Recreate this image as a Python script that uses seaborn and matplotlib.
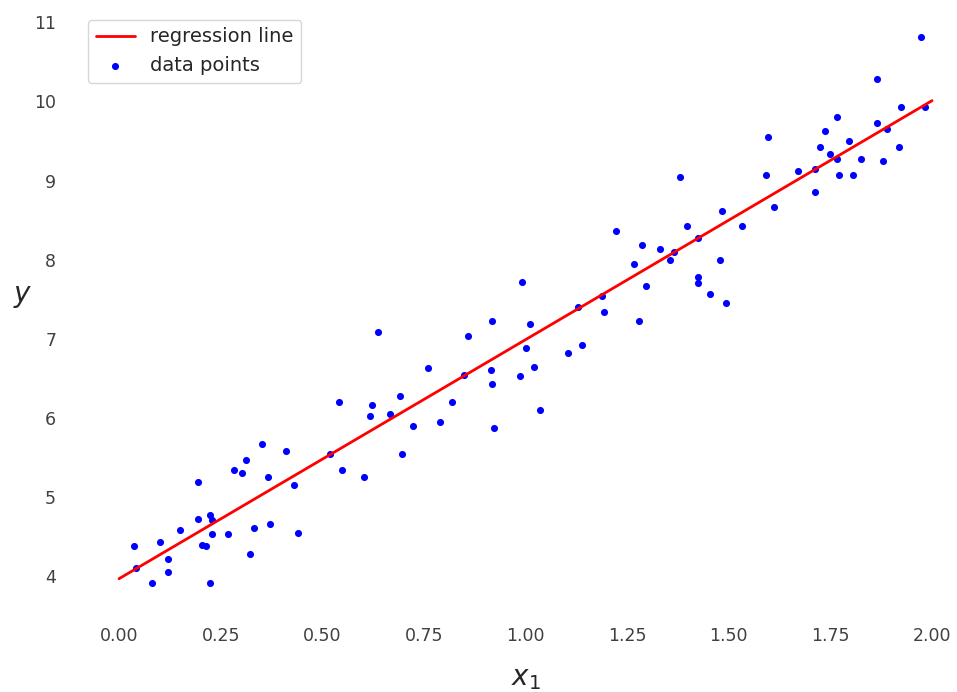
import numpy as np
import pandas as pd
import matplotlib
matplotlib.use("Agg")
import matplotlib.pyplot as plt
import seaborn as sns

# data points
x_pts = [0.036, 0.042, 0.080, 0.101, 0.121, 0.121, 0.149, 0.194, 0.194, 0.204,
         0.214, 0.224, 0.229, 0.229, 0.224, 0.268, 0.283, 0.303, 0.312, 0.322,
         0.332, 0.352, 0.367, 0.371, 0.411, 0.431, 0.440,
         0.520, 0.540, 0.549, 0.603, 0.617, 0.622, 0.638, 0.667, 0.691, 0.697,
         0.722, 0.760, 0.790, 0.819, 0.849, 0.859, 0.914, 0.918, 0.918, 0.923,
         0.986, 0.992, 1.002, 1.011, 1.022, 1.036,
         1.105, 1.140, 1.130, 1.189, 1.194, 1.223, 1.268, 1.278, 1.287, 1.297,
         1.332, 1.356, 1.366, 1.381, 1.396, 1.425, 1.425, 1.425, 1.455, 1.479,
         1.484, 1.494, 1.533,
         1.612, 1.592, 1.597, 1.671, 1.711, 1.711, 1.725, 1.736, 1.750, 1.766,
         1.766, 1.770, 1.795, 1.805, 1.825, 1.864, 1.864, 1.879, 1.889, 1.918,
         1.923, 1.972, 1.982]
y_pts = [4.38, 4.10, 3.92, 4.43, 4.22, 4.05, 4.58, 5.19, 4.73, 4.40,
         4.38, 4.78, 4.71, 4.53, 3.92, 4.53, 5.34, 5.31, 5.47, 4.28,
         4.61, 5.67, 5.26, 4.66, 5.59, 5.16, 4.55,
         5.54, 6.20, 5.34, 5.26, 6.03, 6.17, 7.09, 6.05, 6.28, 5.54,
         5.90, 6.63, 5.95, 6.20, 6.55, 7.04, 6.61, 7.22, 6.43, 5.87,
         6.53, 7.72, 6.88, 7.19, 6.65, 6.10,
         6.82, 6.92, 7.40, 7.54, 7.34, 8.36, 7.95, 7.22, 8.18, 7.67,
         8.13, 8.00, 8.10, 9.04, 8.43, 8.28, 7.78, 7.70, 7.57, 8.00,
         8.61, 7.45, 8.43,
         8.66, 9.07, 9.55, 9.12, 8.86, 9.15, 9.42, 9.63, 9.34, 9.80,
         9.27, 9.07, 9.50, 9.07, 9.27, 10.28, 9.73, 9.25, 9.65, 9.42,
         9.93, 10.81, 9.93]

# regression line endpoints
x_line = [0.0, 2.0]
y_line = [3.97, 10.01]

x_ticks = [0.00, 0.25, 0.50, 0.75, 1.00, 1.25, 1.50, 1.75, 2.00]
y_ticks = [4, 5, 6, 7, 8, 9, 10, 11]

sns.set_style("white")
W, H = 957, 692
fig = plt.figure(figsize=(W / 100, H / 100), dpi=100)

left_px, right_px = 78.35, 948.3
top_px, bottom_px = 10.0, 610.0
ax = fig.add_axes([left_px / W, (H - bottom_px) / H,
                   (right_px - left_px) / W, (bottom_px - top_px) / H])

line_df = pd.DataFrame({"x": x_line, "y": y_line})
pts_df = pd.DataFrame({"x": x_pts, "y": y_pts})

sns.lineplot(data=line_df, x="x", y="y", ax=ax, color="red", linewidth=2,
             label="regression line")
sns.scatterplot(data=pts_df, x="x", y="y", ax=ax, color="blue", s=26,
                linewidth=0, label="data points")

ax.set_xlim(-0.1, 2.04)
ax.set_ylim(3.575, 11.155)
ax.set_xticks(x_ticks)
ax.set_xticklabels([f"{t:.2f}" for t in x_ticks])
ax.set_yticks(y_ticks)
ax.tick_params(axis="both", labelsize=12.5, colors=".25", length=0)
ax.tick_params(axis="x", pad=12)
ax.tick_params(axis="y", pad=16)
for s in ax.spines.values():
    s.set_visible(False)

ax.set_xlabel("$x_1$", fontsize=20)
ax.set_ylabel("$y$", fontsize=20, rotation=0)
ax.yaxis.set_label_coords(-0.064, 0.50)
ax.xaxis.set_label_coords(0.514, -0.09)

ax.legend(loc="upper left", fontsize=14)

fig.savefig("out.png", dpi=100)
